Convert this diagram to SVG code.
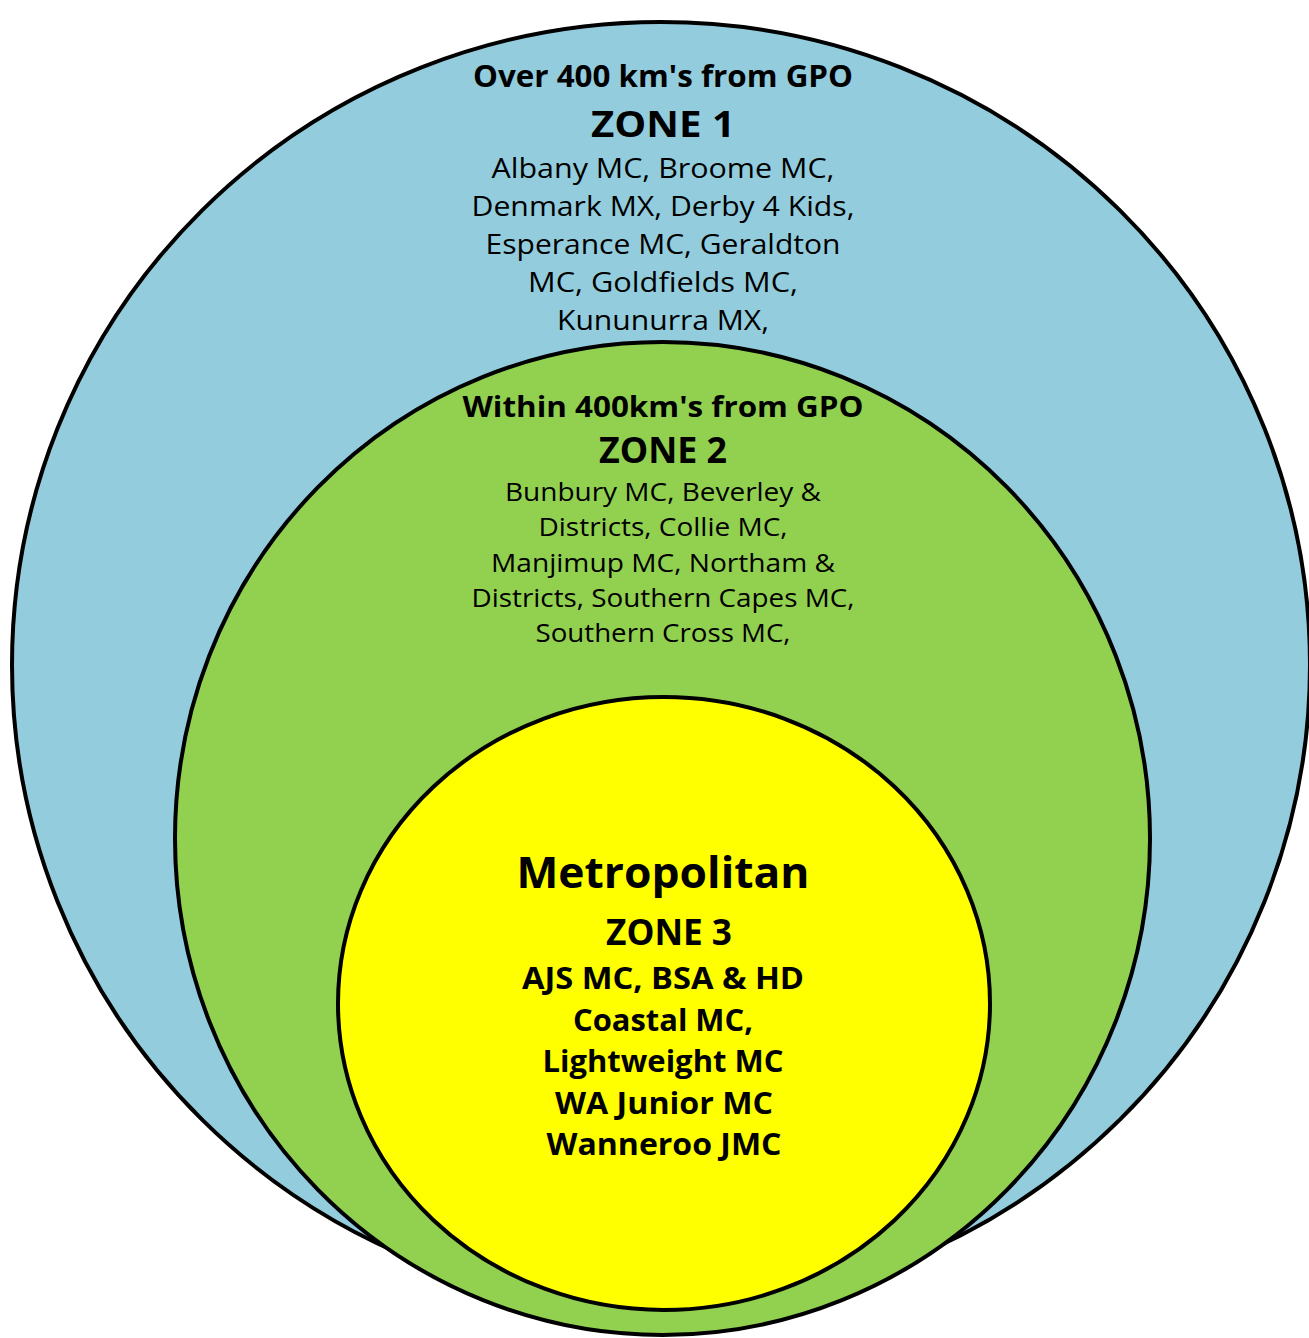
<svg xmlns="http://www.w3.org/2000/svg" width="1309" height="1338" viewBox="0 0 1309 1338">
<style>
.zone{stroke:#000;stroke-width:4}
text{font-family:"Open Sans","Noto Sans",sans-serif;fill:#000;text-anchor:middle}
.b{font-weight:bold}
</style>
<rect width="1309" height="1338" fill="#fff"/>
<g id="zone1">
<ellipse class="zone" cx="661" cy="665" rx="649" ry="643" fill="#93CDDD"/>
</g>
<g id="zone2">
<ellipse class="zone" cx="662.5" cy="838.5" rx="487.5" ry="496.5" fill="#92D050"/>
</g>
<g id="zone3">
<ellipse class="zone" cx="664" cy="1003.5" rx="326" ry="306.5" fill="#FFFF00"/>
</g>
<g id="labels1">
<text class="b" x="663" y="87" font-size="31" textLength="380" lengthAdjust="spacingAndGlyphs">Over 400 km's from GPO</text>
<text class="b" x="663" y="137" font-size="36" textLength="144" lengthAdjust="spacingAndGlyphs">ZONE 1</text>
<text x="663" y="178" font-size="27" textLength="343" lengthAdjust="spacingAndGlyphs">Albany MC, Broome MC,</text>
<text x="663" y="216" font-size="27" textLength="383" lengthAdjust="spacingAndGlyphs">Denmark MX, Derby 4 Kids,</text>
<text x="663" y="254" font-size="27" textLength="355" lengthAdjust="spacingAndGlyphs">Esperance MC, Geraldton</text>
<text x="663" y="292" font-size="27" textLength="270" lengthAdjust="spacingAndGlyphs">MC, Goldfields MC,</text>
<text x="663" y="330" font-size="27" textLength="212" lengthAdjust="spacingAndGlyphs">Kununurra MX,</text>
</g>
<g id="labels2">
<text class="b" x="663" y="417" font-size="29" textLength="401" lengthAdjust="spacingAndGlyphs">Within 400km's from GPO</text>
<text class="b" x="663" y="463" font-size="35" textLength="128" lengthAdjust="spacingAndGlyphs">ZONE 2</text>
<text x="663" y="501" font-size="26" textLength="316" lengthAdjust="spacingAndGlyphs">Bunbury MC, Beverley &amp;</text>
<text x="663" y="536" font-size="26" textLength="249" lengthAdjust="spacingAndGlyphs">Districts, Collie MC,</text>
<text x="663" y="572" font-size="26" textLength="344" lengthAdjust="spacingAndGlyphs">Manjimup MC, Northam &amp;</text>
<text x="663" y="607" font-size="26" textLength="383" lengthAdjust="spacingAndGlyphs">Districts, Southern Capes MC,</text>
<text x="663" y="642" font-size="26" textLength="255" lengthAdjust="spacingAndGlyphs">Southern Cross MC,</text>
</g>
<g id="labels3">
<text class="b" x="663" y="888" font-size="43" textLength="293" lengthAdjust="spacingAndGlyphs">Metropolitan</text>
<text class="b" x="669" y="945" font-size="35" textLength="126" lengthAdjust="spacingAndGlyphs">ZONE 3</text>
<text class="b" x="663" y="989" font-size="30" textLength="282" lengthAdjust="spacingAndGlyphs">AJS MC, BSA &amp; HD</text>
<text class="b" x="663" y="1031" font-size="30" textLength="180" lengthAdjust="spacingAndGlyphs">Coastal MC,</text>
<text class="b" x="663" y="1072" font-size="30" textLength="241" lengthAdjust="spacingAndGlyphs">Lightweight MC</text>
<text class="b" x="664" y="1114" font-size="30" textLength="218" lengthAdjust="spacingAndGlyphs">WA Junior MC</text>
<text class="b" x="664" y="1155" font-size="30" textLength="235" lengthAdjust="spacingAndGlyphs">Wanneroo JMC</text>
</g>
</svg>
